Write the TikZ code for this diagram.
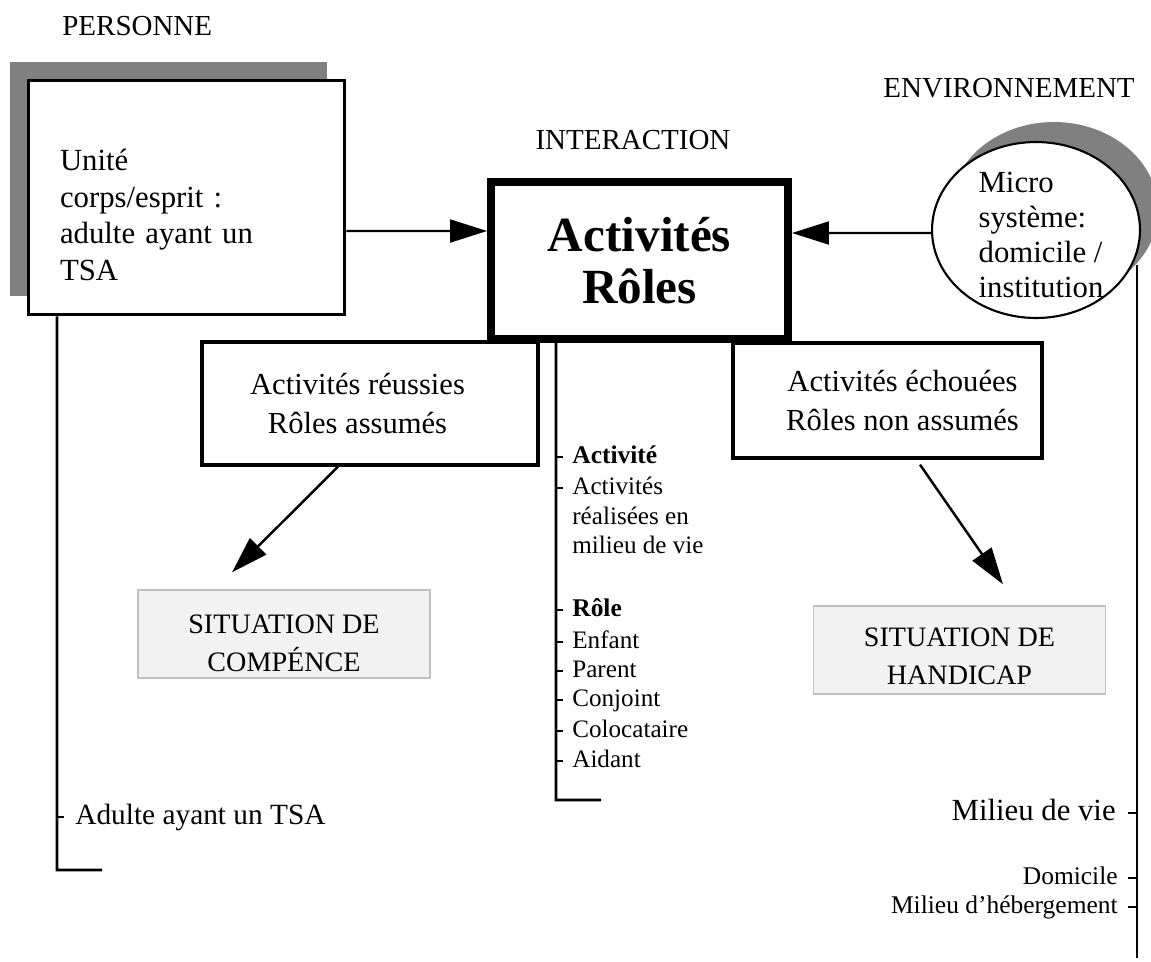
\documentclass[tikz,border=0pt]{standalone}
\usepackage{fontspec}
\setmainfont{Liberation Serif}
\usetikzlibrary{arrows.meta,shapes.geometric,shadows}

\newcommand{\padtop}[1]{\rule{0pt}{#1}}

\begin{document}
\begin{tikzpicture}[
x=0.02cm, y=-0.02cm,
every node/.style={inner sep=0pt},
heading/.style={font=\fontsize{16.5}{19}\selectfont},
personbox/.style={draw, line width=1.7pt, fill=white, minimum width=6.34cm, minimum height=4.7cm, text width=5.06cm, align=left, font=\fontsize{17.5}{20.8}\selectfont, drop shadow={shadow xshift=-0.36cm, shadow yshift=0.37cm, fill=black!50, opacity=1}},
corebox/.style={draw, line width=0.16cm, fill=white, minimum width=5.94cm, minimum height=3.14cm, align=center, font=\bfseries\fontsize{28}{30}\selectfont},
envshape/.style={ellipse, draw, line width=1.2pt, fill=white, minimum width=4.16cm, minimum height=3.52cm, drop shadow={shadow xshift=0.36cm, shadow yshift=0.4cm, fill=black!50, opacity=1}},
envtext/.style={align=left, font=\fontsize{17.5}{20}\selectfont},
sidebox/.style={draw, line width=1.9pt, fill=white, align=center, font=\fontsize{17.4}{22.7}\selectfont},
sitbox/.style={draw=black!25, fill=black!5, line width=0.8pt, minimum width=5.84cm, minimum height=1.76cm, align=center, font=\fontsize{16}{21.6}\selectfont},
item/.style={anchor=west, text height=7pt, text depth=0pt, font=\fontsize{14.3}{17}\selectfont},
ritem/.style={anchor=east, text height=7pt, text depth=0pt, font=\fontsize{14.5}{17}\selectfont},
rail/.style={line width=1.6pt},
arrow/.style={-{Triangle[length=21pt, width=13pt]}, line width=1.4pt}
]
\path[use as bounding box, fill=white] (0,0) rectangle (1151,961);

% titres
\node[heading, anchor=west] (personne) at (62,26) {PERSONNE};
\node[heading] (interaction) at (633,140) {INTERACTION};
\node[heading, anchor=east] (environnement) at (1135,88) {ENVIRONNEMENT};

% blocs principaux
\node[personbox] (person) at (186.5,197.5) {\padtop{32pt}Unité\\corps/esprit :\\adulte ayant un\\TSA};
\node[corebox] (core) at (639.5,260.5) {Activités\\Rôles};
\node[envshape] (env) at (1036,230) {};
\node[envtext] (envlabel) at (1041,235) {Micro\\système:\\domicile /\\institution};

\node[sidebox, minimum width=6.72cm, minimum height=2.46cm] (reussies) at (370,403.5) {Activités réussies\hspace*{0.5cm}\\Rôles assumés\hspace*{0.5cm}};
\node[sidebox, minimum width=6.18cm, minimum height=2.30cm] (echouees) at (887.5,400.5) {\hspace*{0.6cm}Activités échouées\\\hspace*{0.6cm}Rôles non assumés};

\node[sitbox] (competence) at (284,634) {\padtop{21pt}SITUATION DE\\COMPÉNCE};
\node[sitbox] (handicap) at (959.5,650) {\padtop{18pt}SITUATION DE\\HANDICAP};

\draw[arrow] ([yshift=-0.67cm]person.east) -- ([yshift=0.59cm]core.west);
\draw[arrow] ([yshift=-0.06cm]env.west) -- ([yshift=0.55cm]core.east);
\draw[arrow] ([xshift=-0.64cm]reussies.south) -- ([xshift=-1.04cm, yshift=0.34cm]competence.north);
\draw[arrow] ([xshift=0.65cm, yshift=-0.1cm]echouees.south) -- ([xshift=0.87cm, yshift=0.42cm]handicap.north);

% colonne personne
\coordinate (personend) at (57,870);
\node[item, text height=8pt, font=\fontsize{16.7}{19}\selectfont] (adulte) at (75,817) {Adulte ayant un TSA};
\draw[rail] ([xshift=-2.59cm]person.south) -- (personend) -- ++(45,0);
\draw[rail] (adulte.west -| personend) -- ++(7,0);

% colonne interaction
\coordinate (coreend) at (556,800);
\node[item, font=\bfseries\fontsize{14.5}{17}\selectfont] (activite) at (572,457) {Activité};
\node[item] (activites) at (572,488) {Activités};
\node[item] (realisees) at (572,518) {réalisées en};
\node[item] (milieu) at (572,547) {milieu de vie};
\node[item, font=\bfseries\fontsize{14.5}{17}\selectfont] (role) at (572,610) {Rôle};
\node[item] (enfant) at (572,642) {Enfant};
\node[item] (parent) at (572,671) {Parent};
\node[item] (conjoint) at (572,700) {Conjoint};
\node[item] (coloc) at (572,731) {Colocataire};
\node[item] (aidant) at (572,761) {Aidant};
\draw[rail] ([xshift=-1.67cm]core.south) -- (coreend) -- ++(45,0);
\draw[rail] (activite.west -| coreend) -- ++(7,0);
\draw[rail] (activites.west -| coreend) -- ++(7,0);
\draw[rail] (role.west -| coreend) -- ++(7,0);
\draw[rail] (enfant.west -| coreend) -- ++(7,0);
\draw[rail] (parent.west -| coreend) -- ++(7,0);
\draw[rail] (conjoint.west -| coreend) -- ++(7,0);
\draw[rail] (coloc.west -| coreend) -- ++(7,0);
\draw[rail] (aidant.west -| coreend) -- ++(7,0);

% colonne environnement
\coordinate (envend) at (1137,958);
\node[ritem, text height=8pt, font=\fontsize{17.5}{20}\selectfont] (vie) at (1116,813) {Milieu de vie};
\node[ritem] (domicile) at (1118,878) {Domicile};
\node[ritem] (hebergement) at (1118,907) {Milieu d’hébergement};
\draw[rail] (env.-20 -| envend) -- (envend);
\draw[rail] (vie.east -| envend) -- ++(-9,0);
\draw[rail] (domicile.east -| envend) -- ++(-9,0);
\draw[rail] (hebergement.east -| envend) -- ++(-9,0);
\end{tikzpicture}
\end{document}
